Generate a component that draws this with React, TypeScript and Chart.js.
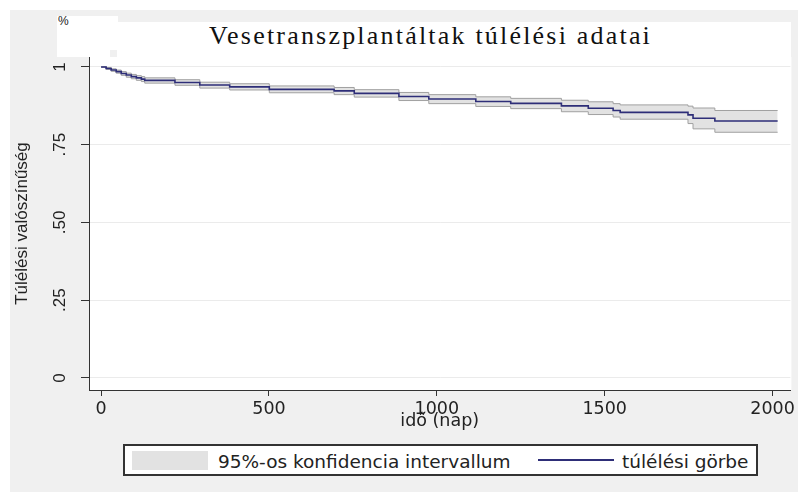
import React, { useEffect, useRef } from "react";
import { Chart, registerables } from "chart.js";

Chart.register(...registerables);

// Kaplan–Meier estimate (time in days, survival probability)
const times = [0, 15, 30, 45, 60, 75, 90, 105, 120, 130, 220, 294, 383, 501, 694, 754, 887, 976, 1116, 1220, 1371, 1451, 1525, 1546, 1748, 1763, 1828, 2015];
const survival = [1, 0.995, 0.99, 0.985, 0.979, 0.974, 0.969, 0.965, 0.961, 0.957, 0.95, 0.942, 0.936, 0.928, 0.923, 0.915, 0.905, 0.897, 0.889, 0.883, 0.875, 0.867, 0.86, 0.854, 0.846, 0.835, 0.826, 0.826];
const ciUpper = [1, 0.998, 0.994, 0.99, 0.985, 0.98, 0.976, 0.972, 0.969, 0.965, 0.959, 0.951, 0.946, 0.939, 0.934, 0.927, 0.918, 0.911, 0.904, 0.899, 0.893, 0.888, 0.882, 0.878, 0.874, 0.868, 0.86, 0.86];
const ciLower = [1, 0.992, 0.986, 0.98, 0.973, 0.967, 0.962, 0.957, 0.953, 0.948, 0.941, 0.932, 0.926, 0.917, 0.911, 0.903, 0.892, 0.882, 0.873, 0.866, 0.856, 0.847, 0.839, 0.832, 0.818, 0.801, 0.79, 0.79];

const xTicks = [0, 500, 1000, 1500, 2000];
const yTicks = [0, 0.25, 0.5, 0.75, 1];
const yTickLabels = ["0", ".25", ".50", ".75", "1"];

const titleText = "Vesetranszplantáltak túlélési adatai";
const xTitle = "idő (nap)";
const yTitle = "Túlélési valószínűség";
const ciLabel = "95%-os konfidencia intervallum";
const curveLabel = "túlélési görbe";

const SANS = "'Liberation Sans', Arial, sans-serif";
const DEJAVU = "'DejaVu Sans', Verdana, sans-serif";
const CURVE = "#2e2e78";
const BAND_FILL = "#e2e2e2";
const BAND_EDGE = "#a0a0a0";

const plotBg = {
  id: "plotBg",
  beforeDraw(chart: any) {
    const { ctx, chartArea } = chart;
    ctx.save();
    ctx.fillStyle = "#ffffff";
    ctx.fillRect(chartArea.left, chartArea.top, chartArea.right - chartArea.left + 1, chartArea.bottom - chartArea.top);
    ctx.restore();
  },
};

export default function App() {
  const ref = useRef<HTMLCanvasElement | null>(null);

  useEffect(() => {
    if (!ref.current) return;
    const pts = (ys: number[]) => times.map((t, i) => ({ x: t, y: ys[i] }));
    const chart = new Chart(ref.current, {
      type: "line",
      data: {
        datasets: [
          {
            label: curveLabel,
            data: pts(survival),
            stepped: true,
            borderColor: CURVE,
            borderWidth: 1.6,
            pointRadius: 0,
            fill: false,
          },
          {
            label: "upper",
            data: pts(ciUpper),
            stepped: true,
            borderColor: BAND_EDGE,
            borderWidth: 1,
            pointRadius: 0,
            fill: false,
          },
          {
            label: ciLabel,
            data: pts(ciLower),
            stepped: true,
            borderColor: BAND_EDGE,
            borderWidth: 1,
            pointRadius: 0,
            backgroundColor: BAND_FILL,
            fill: "-1",
          },
        ],
      },
      options: {
        animation: false,
        responsive: false,
        devicePixelRatio: 1,
        layout: { padding: { top: 57, right: 5, left: 0, bottom: 0 } },
        plugins: { legend: { display: false }, tooltip: { enabled: false }, title: { display: false } },
        scales: {
          x: {
            type: "linear",
            min: -36,
            max: 2053,
            afterBuildTicks: (s: any) => {
              s.ticks = xTicks.map((v) => ({ value: v }));
            },
            afterFit: (s: any) => {
              s.height = 102;
            },
            grid: { display: true, drawOnChartArea: false, drawTicks: true, tickLength: 6, tickColor: "#333333" },
            border: { display: true, color: "#333333", width: 1 },
            ticks: {
              color: "#222222",
              font: { family: DEJAVU, size: 17.5 },
              padding: 3,
              maxRotation: 0,
              minRotation: 0,
              callback: (v: any) => String(v),
            },
            title: {
              display: true,
              text: xTitle,
              color: "#222222",
              font: { family: DEJAVU, size: 17.5 },
              padding: { top: 0, bottom: 60.5 },
            },
          },
          y: {
            type: "linear",
            min: -0.0386,
            max: 1.032,
            afterBuildTicks: (s: any) => {
              s.ticks = yTicks.map((v) => ({ value: v }));
            },
            afterFit: (s: any) => {
              s.width = 89;
            },
            grid: { display: true, drawOnChartArea: true, color: "#ebebeb", drawTicks: true, tickLength: 8, tickColor: "#333333" },
            border: { display: true, color: "#333333", width: 1 },
            ticks: {
              color: "#222222",
              font: { family: SANS, size: 17 },
              padding: 9,
              minRotation: 90,
              maxRotation: 90,
              crossAlign: "center",
              callback: (v: any) => {
                const i = yTicks.indexOf(v);
                return i >= 0 ? yTickLabels[i] : "";
              },
            },
            title: {
              display: true,
              text: yTitle,
              color: "#222222",
              font: { family: SANS, size: 17 },
              padding: { top: 12, bottom: 0 },
            },
          },
        },
      } as any,
      plugins: [plotBg],
    });
    return () => chart.destroy();
  }, []);

  return (
    <div style={{ position: "fixed", left: 0, top: 0, width: 798, height: 492, background: "#ffffff", overflow: "hidden" }}>
      <div style={{ position: "absolute", left: 10, top: 10, width: 788, height: 482, background: "#f0f0f0" }} />
      <div style={{ position: "absolute", left: 57, top: 16, width: 61, height: 34, background: "#ffffff" }} />
      <div style={{ position: "absolute", left: 57, top: 48, width: 53, height: 9, background: "#ffffff" }} />
      <div style={{ position: "absolute", left: 117, top: 22, width: 674, height: 35, background: "#ffffff" }} />
      <div style={{ position: "absolute", left: 58, top: 14, fontFamily: SANS, fontSize: 12, color: "#222" }}>%</div>
      <div
        style={{
          position: "absolute",
          left: 209,
          top: 20,
          fontFamily: "'Liberation Serif', 'Times New Roman', serif",
          fontSize: 26,
          lineHeight: "32px",
          letterSpacing: "2.2px",
          color: "#111",
          whiteSpace: "nowrap",
        }}
      >
        {titleText}
      </div>
      <canvas ref={ref} width={798} height={492} style={{ position: "absolute", left: 0, top: 0, width: 798, height: 492 }} />
      <div
        style={{
          position: "absolute",
          left: 123,
          top: 444,
          width: 631,
          height: 28,
          border: "2px solid #333",
          background: "#ffffff",
          fontFamily: DEJAVU,
          fontSize: 18.5,
          color: "#222",
        }}
      >
        <div style={{ position: "absolute", left: 7, top: 5, width: 76, height: 19, background: BAND_FILL }} />
        <div style={{ position: "absolute", left: 93, top: 4, lineHeight: "24px", whiteSpace: "nowrap" }}>{ciLabel}</div>
        <div style={{ position: "absolute", left: 413, top: 13, width: 76, height: 1.5, background: CURVE }} />
        <div style={{ position: "absolute", left: 497, top: 4, lineHeight: "24px", whiteSpace: "nowrap" }}>{curveLabel}</div>
      </div>
    </div>
  );
}
